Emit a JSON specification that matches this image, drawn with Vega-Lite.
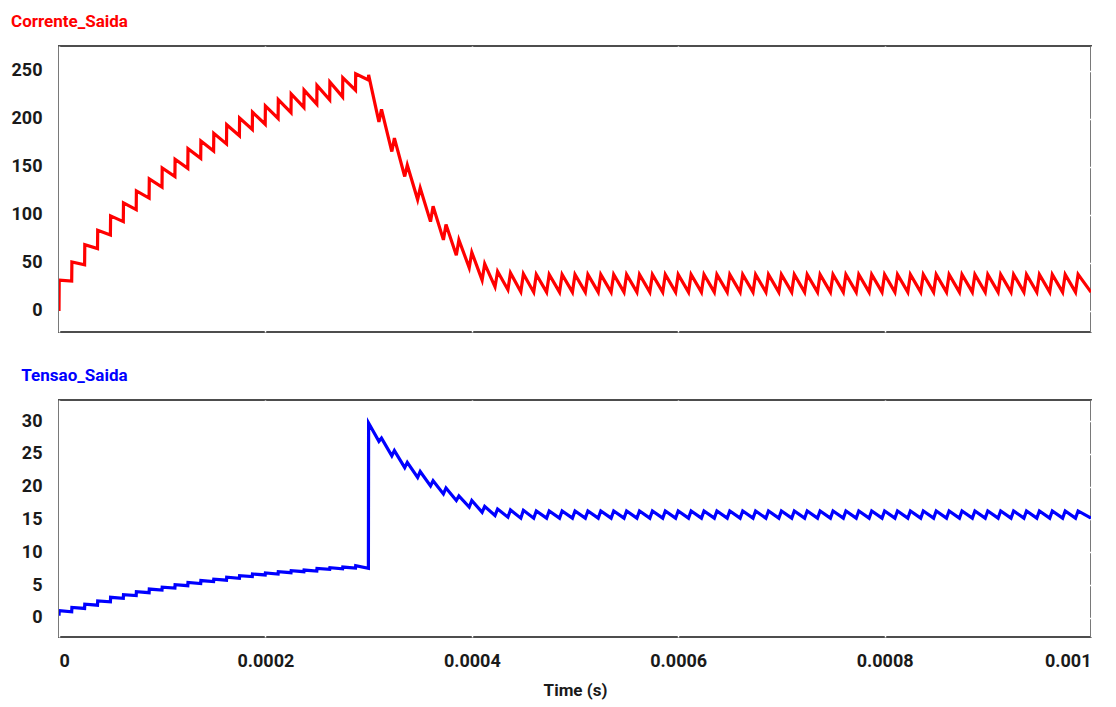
{
"$schema": "https://vega.github.io/schema/vega-lite/v6.json",
"padding": {"left": 10, "top": 12, "right": 8, "bottom": 6},
"config": {
  "font": "Roboto",
  "view": {"stroke": "#4d4d4d", "strokeWidth": 2},
  "axis": {"labelFont": "Roboto", "labelFontSize": 18, "labelFontWeight": "bold", "labelColor": "#1a1a1a", "grid": true, "gridColor": "#ffffff", "gridWidth": 1.5, "domain": false, "ticks": false, "labelPadding": 17, "titleFont": "Roboto", "titleFontSize": 17, "titleFontWeight": "bold", "titleColor": "#1a1a1a"},
  "title": {"anchor": "start", "fontSize": 17, "fontWeight": "bold", "font": "Roboto", "offset": 15},
  "concat": {"spacing": 33}
},
"datasets": {"d": [
{"t":0,"c":0,"v":0.35},
{"t":0.0000002,"c":32,"v":1.1},
{"t":0.0000123,"c":31,"v":0.95},{"t":0.0000125,"c":51,"v":1.6},
{"t":0.0000248,"c":48,"v":1.45},{"t":0.000025,"c":69,"v":2.1},
{"t":0.0000373,"c":65,"v":1.95},{"t":0.0000375,"c":84,"v":2.6},
{"t":0.0000498,"c":79,"v":2.45},{"t":0.00005,"c":99,"v":3.15},
{"t":0.0000623,"c":93,"v":3.0},{"t":0.0000625,"c":112.5,"v":3.55},
{"t":0.0000748,"c":105.5,"v":3.4},{"t":0.000075,"c":125,"v":4.0},
{"t":0.0000873,"c":117.5,"v":3.85},{"t":0.0000875,"c":137.5,"v":4.4},
{"t":0.0000998,"c":129,"v":4.25},{"t":0.0001,"c":149,"v":4.7},
{"t":0.0001123,"c":140,"v":4.55},{"t":0.0001125,"c":158,"v":5.07},
{"t":0.0001248,"c":148.5,"v":4.92},{"t":0.000125,"c":169,"v":5.4},
{"t":0.0001373,"c":159,"v":5.25},{"t":0.0001375,"c":177,"v":5.7},
{"t":0.0001498,"c":166.5,"v":5.55},{"t":0.00015,"c":185,"v":5.9},
{"t":0.0001623,"c":174,"v":5.75},{"t":0.0001625,"c":194,"v":6.2},
{"t":0.0001748,"c":182.5,"v":6.05},{"t":0.000175,"c":201,"v":6.45},
{"t":0.0001873,"c":189,"v":6.3},{"t":0.0001875,"c":207,"v":6.7},
{"t":0.0001998,"c":194.5,"v":6.55},{"t":0.0002,"c":213.5,"v":6.85},
{"t":0.0002123,"c":200.5,"v":6.7},{"t":0.0002125,"c":220,"v":7.05},
{"t":0.0002248,"c":206.5,"v":6.9},{"t":0.000225,"c":226,"v":7.2},
{"t":0.0002373,"c":212,"v":7.05},{"t":0.0002375,"c":230,"v":7.3},
{"t":0.0002498,"c":215.5,"v":7.15},{"t":0.00025,"c":235,"v":7.55},
{"t":0.0002623,"c":220,"v":7.4},{"t":0.0002625,"c":238.5,"v":7.65},
{"t":0.0002748,"c":223,"v":7.5},{"t":0.000275,"c":243,"v":7.75},
{"t":0.0002873,"c":230,"v":7.6},{"t":0.0002875,"c":247,"v":7.95},
{"t":0.0002998,"c":240.6,"v":7.55},{"t":0.0003,"c":246,"v":29.7},
{"t":0.00031,"c":197,"v":26.9},{"t":0.0003125,"c":210,"v":27.4},
{"t":0.0003225,"c":166,"v":24.7},{"t":0.000325,"c":180,"v":25.5},
{"t":0.000335,"c":140,"v":22.9},{"t":0.0003375,"c":152,"v":23.7},
{"t":0.0003475,"c":116,"v":21.4},{"t":0.00035,"c":128,"v":22.3},
{"t":0.00036,"c":93,"v":20.1},{"t":0.0003625,"c":109,"v":20.9},
{"t":0.0003725,"c":74,"v":18.9},{"t":0.000375,"c":90,"v":19.8},
{"t":0.000385,"c":58,"v":17.9},{"t":0.0003875,"c":74,"v":18.6},
{"t":0.0003975,"c":45,"v":16.9},{"t":0.0004,"c":61,"v":17.9},
{"t":0.00041,"c":32,"v":16.1},{"t":0.0004125,"c":49,"v":17.0},
{"t":0.0004225,"c":25,"v":15.6},{"t":0.000425,"c":41,"v":16.6},
{"t":0.000435,"c":22,"v":15.35},{"t":0.0004375,"c":39.5,"v":16.45},
{"t":0.0004475,"c":20,"v":15.2},{"t":0.00045,"c":38.5,"v":16.4},
{"t":0.00046,"c":19.5,"v":15.2},{"t":0.0004625,"c":38,"v":16.3},
{"t":0.0004725,"c":19.5,"v":15.2},{"t":0.000475,"c":38,"v":16.3},
{"t":0.000485,"c":19.5,"v":15.2},{"t":0.0004875,"c":38,"v":16.3},
{"t":0.0004975,"c":19.5,"v":15.2},{"t":0.0005,"c":38,"v":16.3},
{"t":0.00051,"c":19.5,"v":15.2},{"t":0.0005125,"c":38,"v":16.3},
{"t":0.0005225,"c":19.5,"v":15.2},{"t":0.000525,"c":38,"v":16.3},
{"t":0.000535,"c":19.5,"v":15.2},{"t":0.0005375,"c":38,"v":16.3},
{"t":0.0005475,"c":19.5,"v":15.2},{"t":0.00055,"c":38,"v":16.3},
{"t":0.00056,"c":19.5,"v":15.2},{"t":0.0005625,"c":38,"v":16.3},
{"t":0.0005725,"c":19.5,"v":15.2},{"t":0.000575,"c":38,"v":16.3},
{"t":0.000585,"c":19.5,"v":15.2},{"t":0.0005875,"c":38,"v":16.3},
{"t":0.0005975,"c":19.5,"v":15.2},{"t":0.0006,"c":38,"v":16.3},
{"t":0.00061,"c":19.5,"v":15.2},{"t":0.0006125,"c":38,"v":16.3},
{"t":0.0006225,"c":19.5,"v":15.2},{"t":0.000625,"c":38,"v":16.3},
{"t":0.000635,"c":19.5,"v":15.2},{"t":0.0006375,"c":38,"v":16.3},
{"t":0.0006475,"c":19.5,"v":15.2},{"t":0.00065,"c":38,"v":16.3},
{"t":0.00066,"c":19.5,"v":15.2},{"t":0.0006625,"c":38,"v":16.3},
{"t":0.0006725,"c":19.5,"v":15.2},{"t":0.000675,"c":38,"v":16.3},
{"t":0.000685,"c":19.5,"v":15.2},{"t":0.0006875,"c":38,"v":16.3},
{"t":0.0006975,"c":19.5,"v":15.2},{"t":0.0007,"c":38,"v":16.3},
{"t":0.00071,"c":19.5,"v":15.2},{"t":0.0007125,"c":38,"v":16.3},
{"t":0.0007225,"c":19.5,"v":15.2},{"t":0.000725,"c":38,"v":16.3},
{"t":0.000735,"c":19.5,"v":15.2},{"t":0.0007375,"c":38,"v":16.3},
{"t":0.0007475,"c":19.5,"v":15.2},{"t":0.00075,"c":38,"v":16.3},
{"t":0.00076,"c":19.5,"v":15.2},{"t":0.0007625,"c":38,"v":16.3},
{"t":0.0007725,"c":19.5,"v":15.2},{"t":0.000775,"c":38,"v":16.3},
{"t":0.000785,"c":19.5,"v":15.2},{"t":0.0007875,"c":38,"v":16.3},
{"t":0.0007975,"c":19.5,"v":15.2},{"t":0.0008,"c":38,"v":16.3},
{"t":0.00081,"c":19.5,"v":15.2},{"t":0.0008125,"c":38,"v":16.3},
{"t":0.0008225,"c":19.5,"v":15.2},{"t":0.000825,"c":38,"v":16.3},
{"t":0.000835,"c":19.5,"v":15.2},{"t":0.0008375,"c":38,"v":16.3},
{"t":0.0008475,"c":19.5,"v":15.2},{"t":0.00085,"c":38,"v":16.3},
{"t":0.00086,"c":19.5,"v":15.2},{"t":0.0008625,"c":38,"v":16.3},
{"t":0.0008725,"c":19.5,"v":15.2},{"t":0.000875,"c":38,"v":16.3},
{"t":0.000885,"c":19.5,"v":15.2},{"t":0.0008875,"c":38,"v":16.3},
{"t":0.0008975,"c":19.5,"v":15.2},{"t":0.0009,"c":38,"v":16.3},
{"t":0.00091,"c":19.5,"v":15.2},{"t":0.0009125,"c":38,"v":16.3},
{"t":0.0009225,"c":19.5,"v":15.2},{"t":0.000925,"c":38,"v":16.3},
{"t":0.000935,"c":19.5,"v":15.2},{"t":0.0009375,"c":38,"v":16.3},
{"t":0.0009475,"c":19.5,"v":15.2},{"t":0.00095,"c":38,"v":16.3},
{"t":0.00096,"c":19.5,"v":15.2},{"t":0.0009625,"c":38,"v":16.3},
{"t":0.0009725,"c":19.5,"v":15.2},{"t":0.000975,"c":38,"v":16.3},
{"t":0.000985,"c":19.5,"v":15.2},{"t":0.0009875,"c":38,"v":16.3},
{"t":0.001,"c":19.5,"v":15.2}
]},
"vconcat": [
  {
    "width": 1032, "height": 286,
    "title": {"text": "Corrente_Saida", "color": "#ff0000"},
    "data": {"name": "d"},
    "mark": {"type": "line", "color": "#ff0000", "strokeWidth": 3.2, "clip": true},
    "encoding": {
      "x": {"field": "t", "type": "quantitative", "scale": {"domain": [0, 0.001], "nice": false}, "axis": {"labels": false, "title": null, "values": [0, 0.0002, 0.0004, 0.0006, 0.0008, 0.001]}},
      "y": {"field": "c", "type": "quantitative", "scale": {"domain": [-22, 276], "nice": false, "zero": false}, "axis": {"values": [0, 50, 100, 150, 200, 250], "title": null}}
    }
  },
  {
    "width": 1032, "height": 237,
    "title": {"text": "Tensao_Saida", "color": "#0000ff"},
    "data": {"name": "d"},
    "mark": {"type": "line", "color": "#0000ff", "strokeWidth": 3.2, "clip": true},
    "encoding": {
      "x": {"field": "t", "type": "quantitative", "scale": {"domain": [0, 0.001], "nice": false}, "axis": {"title": "Time (s)", "values": [0, 0.0002, 0.0004, 0.0006, 0.0008, 0.001], "format": "~g", "labelPadding": 15, "titlePadding": 12}},
      "y": {"field": "v", "type": "quantitative", "scale": {"domain": [-2.9, 33.2], "nice": false, "zero": false}, "axis": {"values": [0, 5, 10, 15, 20, 25, 30], "title": null}}
    }
  }
]
}
